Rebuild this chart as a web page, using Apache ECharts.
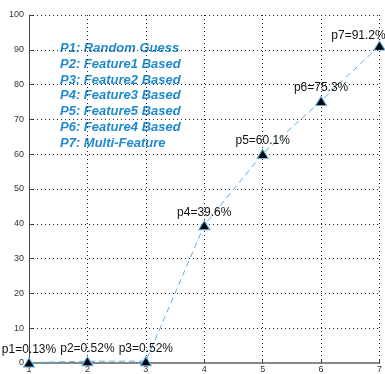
<!DOCTYPE html>
<html><head><meta charset="utf-8">
<script src="https://cdn.jsdelivr.net/npm/echarts@6/dist/echarts.min.js"></script>
<style>html,body{margin:0;padding:0;background:#fff}#c{width:385px;height:374px}</style>
</head><body><div id="c"></div>
<script>
const xValues = [1, 2, 3, 4, 5, 6, 7];
const accuracy = [0.13, 0.52, 0.52, 39.6, 60.1, 75.3, 91.2];
const pointNames = ['p1', 'p2', 'p3', 'p4', 'p5', 'p6', 'p7'];
const legendLines = ['P1: Random Guess', 'P2: Feature1 Based', 'P3: Feature2 Based', 'P4: Feature3 Based', 'P5: Feature5 Based', 'P6: Feature4 Based', 'P7: Multi-Feature'];
const yTicks = [0, 10, 20, 30, 40, 50, 60, 70, 80, 90, 100];

const chart = echarts.init(document.getElementById('c'), null, {renderer: 'canvas'});
const gridLine = {show: true, lineStyle: {color: '#222', type: [1, 3], width: 1}};
const labelOffsets = {6: [-21, 3]};
chart.setOption({
  animation: false,
  grid: {left: 29, right: 0, top: 15, bottom: 10, containLabel: false},
  xAxis: [{
    type: 'value', min: 1, max: 7, interval: 1,
    axisLine: {show: true, onZero: false, lineStyle: {color: '#444', width: 1}},
    axisTick: {show: true, inside: true, length: 4, lineStyle: {color: '#444'}},
    axisLabel: {fontSize: 9, color: '#333', margin: 2, fontFamily: 'Liberation Sans'},
    splitLine: gridLine
  }, {
    type: 'value', position: 'top', min: 1, max: 7, interval: 1,
    axisLine: {show: true, lineStyle: {color: '#888', width: 2}},
    axisTick: {show: false}, axisLabel: {show: false}, splitLine: {show: false}
  }],
  yAxis: {
    type: 'value', min: 0, max: 100, interval: 10,
    axisLine: {show: true, lineStyle: {color: '#444', width: 1}},
    axisTick: {show: true, inside: true, length: 4, lineStyle: {color: '#444'}},
    axisLabel: {fontSize: 9, color: '#333', margin: 5, fontFamily: 'Liberation Sans',
      formatter: v => yTicks.includes(v) ? String(v) : ''},
    splitLine: gridLine
  },
  series: [{
    type: 'line',
    xAxisIndex: 0,
    data: xValues.map((x, i) => ({
      value: [x, accuracy[i]],
      label: {offset: labelOffsets[i] || [0, 0]}
    })),
    lineStyle: {color: '#5aafe6', width: 1, type: [6, 4]},
    symbol: 'triangle', symbolSize: [11, 9],
    itemStyle: {color: '#000', borderColor: '#5aafe6', borderWidth: 1},
    clip: false,
    label: {
      show: true, position: 'top', distance: 2,
      fontFamily: '"Liberation Sans", Arial, sans-serif',
      fontSize: 12, color: '#111',
      formatter: p => pointNames[p.dataIndex] + '=' + accuracy[p.dataIndex] + '%'
    }
  }],
  graphic: legendLines.map((t, i) => ({
    type: 'text', left: 60, top: 42 + i * 15.8,
    style: {text: t, fill: '#1f8ad0', font: 'italic bold 13px "Liberation Sans", Arial, sans-serif'}
  }))
});
</script></body></html>
